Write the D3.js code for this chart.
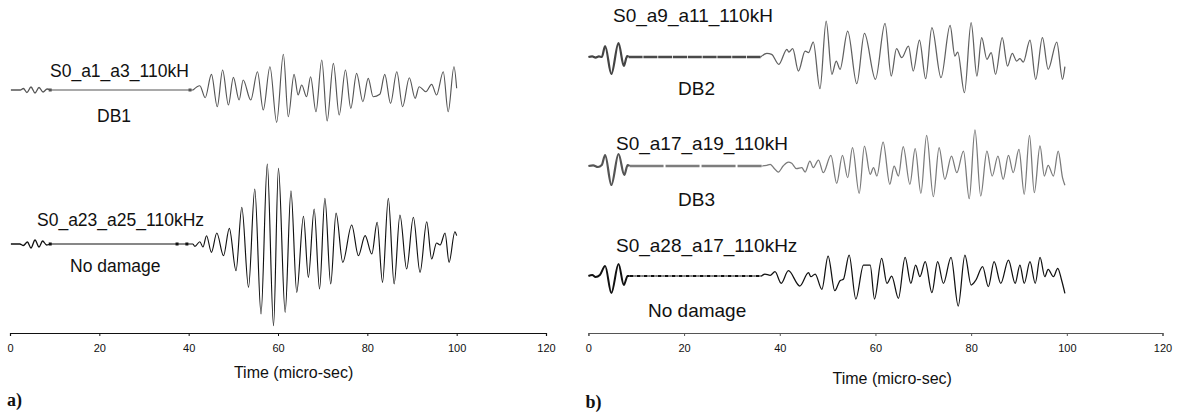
<!DOCTYPE html>
<html>
<head>
<meta charset="utf-8">
<script src="https://d3js.org/d3.v7.min.js"></script>
<style>
  body { margin: 0; background: #fff; }
  svg { display: block; }
  text { font-family: "Liberation Sans", Arial, sans-serif; fill: #111; }
</style>
</head>
<body>
<svg id="chart" width="1178" height="414"></svg>
<script>
// time axis ticks (micro-sec)
const timeTicks = [0, 20, 40, 60, 80, 100, 120];

// ---- panel a) ----
// S0_a1_a3_110kH, DB1   [time, amplitude]
const db1Early = [[0.2,0],[2.3,0],[3.0,1.5],[3.8,-2.5],[4.7,3],[5.6,-3],[6.5,2.5],[7.4,-2],[8.3,1],[9.0,0]];
const db1Quiet = [9.0, 41.0];
const db1Marks = [9.0, 40.3];
const db1Late = [[41.0,0],[42.5,4.3],[43.7,-7.7],[45.1,15.7],[46.4,-16.7],[47.6,20],[48.9,-15],[50.0,12.7],
  [51.3,-10],[52.2,10],[53.9,-10],[55.4,18.3],[56.7,-20],[58.2,23.3],[59.7,-32.3],[61.2,35.7],[62.3,-26.7],
  [63.6,15.7],[64.5,-5],[65.3,5],[66.4,-6.7],[67.3,13.3],[68.5,-21.7],[69.8,30],[71.0,-31],[72.4,26.7],
  [73.7,-25],[75.1,20],[76.3,-18.3],[77.6,16.7],[79.0,-11.7],[80.2,11.7],[81.3,-6.7],[82.8,-4.3],[83.9,15.7],
  [85.2,-13.3],[86.6,18.3],[87.9,-16.7],[89.4,12.3],[90.7,-8.3],[91.6,3.3],[93.1,-1.7],[94.4,5.7],[95.5,-5],
  [97.0,18.3],[98.1,-21.7],[99.4,23.3],[100.0,1.7]];

// S0_a23_a25_110kHz, no damage
const nd1Early = [[0.2,0],[2.2,0],[3.0,-1.5],[3.9,2],[4.7,-4],[5.6,4],[6.5,-3],[7.3,3],[8.2,-1],[9.0,0]];
const nd1Quiet = [9.0, 41.0];
const nd1Marks = [9.0, 37.4, 39.6];
const nd1Late = [[41.0,0],[41.4,-2.3],[42.5,2.3],[43.2,-3],[44.0,8.3],[45.1,-8.3],[46.3,11],[47.8,-11.7],
  [49.1,15.7],[50.6,-26.7],[51.9,36.7],[53.4,-43.3],[54.8,55],[56.2,-70],[57.6,80],[59.0,-81.7],[60.1,75.7],
  [61.6,-68.3],[62.9,53.3],[64.2,-48.3],[65.7,27.7],[66.8,-33.3],[68.1,35],[69.3,-45],[70.5,45.7],[71.8,-40],
  [73.0,31],[74.5,-18.3],[76.5,19],[78.0,-11.7],[79.5,8.3],[81.0,-10],[82.2,21.7],[83.4,-38.3],[84.7,45.7],
  [86.0,-40],[87.3,29],[88.8,-25],[90.3,26.7],[91.8,-28.3],[93.3,22.3],[94.4,-15],[95.5,1],[96.3,-1],
  [97.4,11],[98.3,-18.3],[99.6,12.3],[100.0,8.3]];

// ---- panel b) ----
// S0_a9_a11_110kH, DB2
const db2Early = [[0,0],[0.8,0.6],[1.5,-0.6],[2.2,0.6],[2.8,0],[3.5,11],[4.8,-17],[6.3,14],[7.4,-9],[8.1,1],[8.4,0]];
const db2Quiet = [8.4, 36.0];
const db2Late = [[36.0,0],[37.3,3.7],[38.3,2.7],[39.8,-7.3],[41.5,7.7],[41.9,5],[42.7,8.3],[43.9,-14],[45.3,6],
  [46.0,4.3],[47.0,15],[48.4,-31.7],[49.7,36],[50.9,-17.3],[51.8,-4],[52.6,-12.3],[54.2,26],[56.1,-26.7],
  [57.7,23.7],[60.0,-22.3],[62.0,33.7],[63.3,-19],[64.4,8.3],[65.5,-0.7],[66.9,11],[67.9,-14],[69.2,17],
  [70.5,-21.7],[71.8,29.3],[73.7,-20.7],[75.6,31.7],[76.6,1],[77.2,5],[78.6,-35.7],[80.0,34.3],[81.2,-19],
  [82.2,19.3],[83.3,-2.3],[84.2,4.3],[85.1,-17.3],[86.5,19.3],[87.6,-9],[88.6,3.7],[89.5,-4],[90.2,-1.7],
  [90.9,-5],[92.3,17],[93.5,-22.3],[94.9,19.3],[96.1,-12.3],[97.9,15],[99.1,-22.3],[99.6,-9.7]];

// S0_a17_a19_110kH, DB3
const db3Early = [[0,0],[1.0,0.6],[2.0,-1],[2.8,1],[3.5,11],[4.8,-19],[6.3,12],[7.5,-9],[8.2,1],[8.6,0]];
const db3Quiet = [8.6, 36.2];
const db3Late = [[36.2,0],[37.3,0.7],[38.0,1.7],[39.0,-3.3],[39.7,-6],[40.7,0],[41.8,4],[42.5,2.7],[43.5,-2.7],
  [44.6,-1.7],[45.3,-6],[46.3,5],[47.0,-1.7],[48.1,6],[49.1,-6.7],[50.7,10.7],[51.9,-17.3],[53.1,10.7],
  [54.2,-11.7],[55.2,18.3],[56.6,-27.3],[57.7,20],[58.9,-8.3],[59.6,-1.7],[60.3,-10],[61.6,24],[63.0,-18.3],
  [63.9,0],[64.8,-10],[65.8,19.3],[67.2,-18.3],[68.3,17.3],[69.5,-27.3],[70.7,30.7],[72.1,-30.7],[73.3,18.3],
  [74.5,-13.3],[75.9,10],[77.0,-6.7],[78.4,15],[79.6,-32.7],[80.8,36],[82.0,-30],[83.3,15],[84.4,-10],
  [85.6,10],[86.7,-13.3],[87.8,10.7],[88.8,-6.7],[90.0,16.7],[91.1,-28.3],[92.2,30.7],[93.2,-26.7],[94.4,20],
  [95.3,-10],[96.1,0.7],[97.2,-10],[98.2,15],[99.1,-11.7],[99.6,-19.3]];

// S0_a28_a17_110kHz, no damage
const nd2Early = [[0,0],[0.8,1],[1.5,-1],[2.4,1],[3.5,10],[4.8,-17],[6.3,12],[7.4,-9],[8.2,0],[8.6,0]];
const nd2Quiet = [8.6, 36.2];
const nd2Late = [[36.2,0],[36.9,2],[38.0,0.7],[39.0,4.3],[40.3,-7.3],[41.8,5.3],[44.2,-10],[46.0,3.3],
  [46.5,-0.7],[47.4,2],[48.8,-13.3],[50.1,20],[51.5,-14.7],[52.6,-4.7],[53.3,-3.3],[54.5,21],[55.9,-23],
  [57.5,11],[58.9,11],[59.8,-23],[61.3,17.7],[62.4,-7.3],[63.4,0],[64.8,-22.3],[66.2,18.7],[67.4,-7.3],
  [68.4,11],[69.3,-0.7],[70.4,14.3],[71.8,-16.7],[73.0,14.3],[74.2,-7.3],[75.8,18.7],[77.3,-30],[78.7,21],
  [80.0,-9],[81.0,-4],[82.4,9.3],[83.6,-10.7],[84.8,14.3],[86.2,-7.3],[87.8,16],[89.2,-7.3],[90.2,11],
  [91.1,-7.3],[92.3,14.3],[93.4,-7.3],[94.4,18.7],[95.4,-0.7],[96.1,6.7],[97.2,-0.7],[98.1,7.7],[98.9,-4],
  [99.6,-17.3]];

const svg = d3.select('#chart');

function drawPanel(p) {
  const x = d3.scaleLinear().domain([0, 120]).range(p.range);
  const g = svg.append('g');

  p.traces.forEach(tr => {
    const y = d3.scaleLinear().domain([-100, 100]).range([tr.base + 100, tr.base - 100]);
    const line = d3.line().x(d => x(d[0])).y(d => y(d[1])).curve(d3.curveMonotoneX);
    const t = g.append('g');

    t.append('path').datum(tr.quiet.map(v => [v, 0]))
      .attr('d', d3.line().x(d => x(d[0])).y(d => y(d[1])))
      .attr('fill', 'none').attr('stroke', tr.quietColor || tr.color)
      .attr('stroke-width', tr.quietWidth).attr('stroke-dasharray', tr.quietDash || null);

    t.append('path').datum(tr.early).attr('d', line)
      .attr('fill', 'none').attr('stroke', tr.earlyColor || tr.color)
      .attr('stroke-width', tr.earlyWidth).attr('stroke-linejoin', 'round');

    t.append('path').datum(tr.late).attr('d', line)
      .attr('fill', 'none').attr('stroke', tr.color)
      .attr('stroke-width', tr.lateWidth).attr('stroke-linejoin', 'round');

    t.selectAll('rect.mark').data(tr.marks || []).join('rect')
      .attr('class', 'mark')
      .attr('x', d => x(d) - 1.5).attr('y', y(0) - 1.5)
      .attr('width', 3).attr('height', 3).attr('fill', tr.color);

    tr.labels.forEach(l => {
      t.append('text').attr('x', l.x).attr('y', l.y)
        .style('font-size', p.labelSize + 'px').text(l.text);
    });
  });

  const axis = d3.axisBottom(x).tickValues(timeTicks).tickSize(3).tickPadding(8);
  const ax = g.append('g').attr('transform', `translate(0,${p.axisY})`).call(axis);
  ax.select('.domain').attr('stroke', p.axisColor).attr('stroke-width', 1.2);
  ax.selectAll('.tick line').attr('stroke', p.axisColor);
  ax.selectAll('.tick text').style('font-size', '11px')
    .style('font-family', '"Liberation Sans", Arial, sans-serif').attr('fill', '#111');

  g.append('text').attr('x', x(63.5)).attr('y', p.titleY)
    .attr('text-anchor', 'middle').style('font-size', '16px').text('Time (micro-sec)');

  g.append('text').attr('x', p.range[0] - 3).attr('y', p.tagY)
    .style('font-family', '"Liberation Serif", "Times New Roman", serif')
    .style('font-weight', 'bold').style('font-size', '18px').text(p.tag);
}

drawPanel({
  range: [10, 546], axisY: 333, axisColor: '#111', titleY: 378, tag: 'a)', tagY: 406, labelSize: 17.5,
  traces: [
    { base: 90, color: '#555', early: db1Early, late: db1Late, quiet: db1Quiet, marks: db1Marks,
      quietWidth: 1.1, earlyWidth: 1.3, lateWidth: 1.15,
      labels: [{ text: 'S0_a1_a3_110kH', x: 50, y: 77 }, { text: 'DB1', x: 97, y: 122 }] },
    { base: 244, color: '#111', early: nd1Early, late: nd1Late, quiet: nd1Quiet, marks: nd1Marks,
      quietWidth: 1.1, earlyWidth: 1.3, lateWidth: 1.15,
      labels: [{ text: 'S0_a23_a25_110kHz', x: 37, y: 226 }, { text: 'No damage', x: 70, y: 272 }] }
  ]
});

drawPanel({
  range: [588.4, 1162.5], axisY: 333, axisColor: '#555', titleY: 384, tag: 'b)', tagY: 408, labelSize: 19,
  traces: [
    { base: 57, color: '#606060', earlyColor: '#444', quietColor: '#4a4a4a', early: db2Early, late: db2Late,
      quiet: db2Quiet, quietWidth: 2.7, quietDash: '14,0.8', earlyWidth: 2.2, lateWidth: 1.25,
      labels: [{ text: 'S0_a9_a11_110kH', x: 613, y: 22 }, { text: 'DB2', x: 678, y: 95 }] },
    { base: 166, color: '#7a7a7a', earlyColor: '#555', quietColor: '#7d7d7d', early: db3Early, late: db3Late,
      quiet: db3Quiet, quietWidth: 2.7, quietDash: '34,2', earlyWidth: 2.2, lateWidth: 1.25,
      labels: [{ text: 'S0_a17_a19_110kH', x: 616, y: 150 }, { text: 'DB3', x: 678, y: 206 }] },
    { base: 276, color: '#111', early: nd2Early, late: nd2Late,
      quiet: nd2Quiet, quietWidth: 1.8, quietDash: '4,1,1,1', earlyWidth: 2, lateWidth: 1.25,
      labels: [{ text: 'S0_a28_a17_110kHz', x: 616, y: 252 }, { text: 'No damage', x: 648, y: 317 }] }
  ]
});
</script>
</body>
</html>
